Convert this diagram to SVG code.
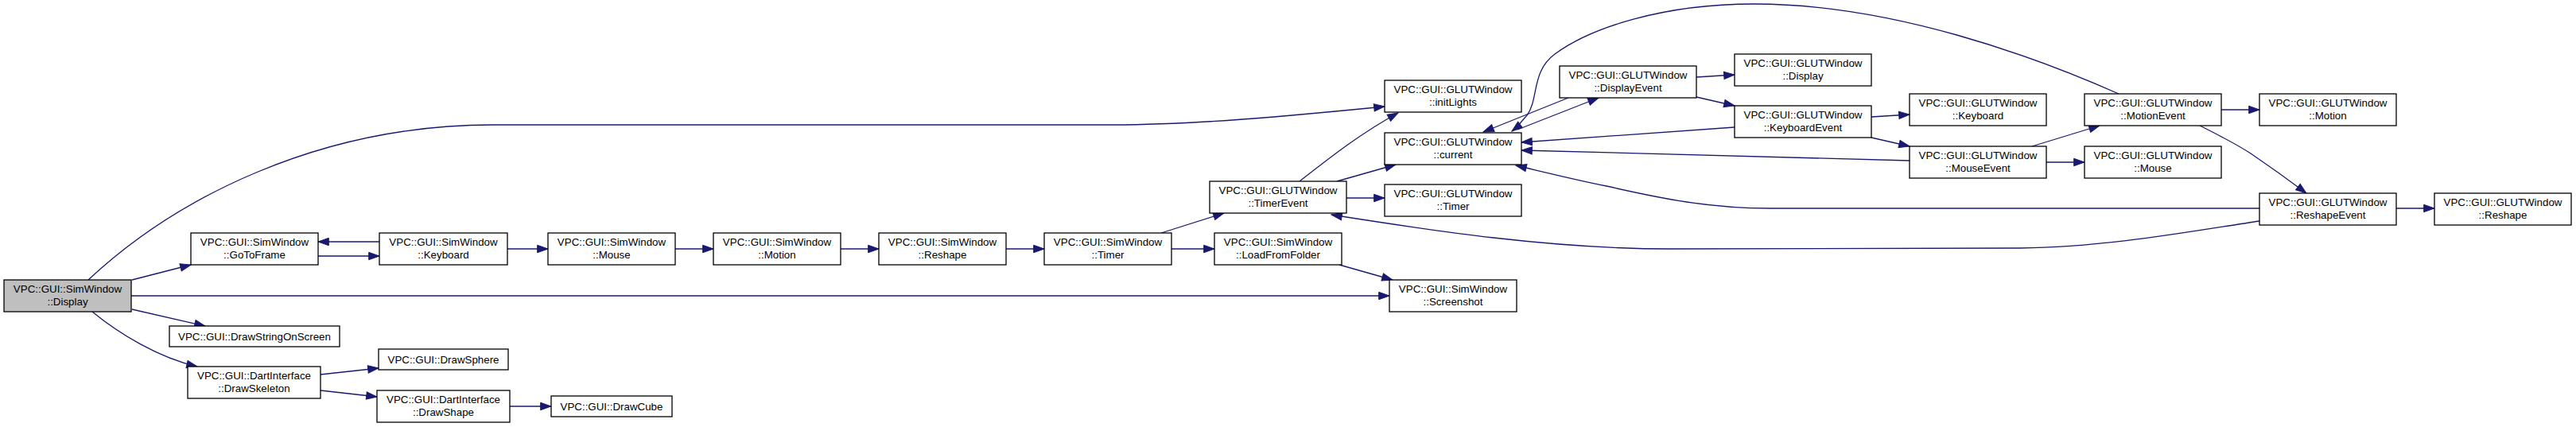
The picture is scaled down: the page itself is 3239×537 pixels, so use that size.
<svg xmlns="http://www.w3.org/2000/svg" width="3239" height="537" viewBox="0 0 3239 537">
<style>
.n rect{fill:#ffffff;stroke:#000000;stroke-width:1.3}
.n.root rect{fill:#bfbfbf}
.n text{font-family:"Liberation Sans",Arial,Helvetica,sans-serif;font-size:13.33px;fill:#000000;text-anchor:middle}
.e path{fill:none;stroke:#191970;stroke-width:1.3;marker-end:url(#ah)}
</style>
<defs>
<marker id="ah" markerUnits="userSpaceOnUse" markerWidth="16" markerHeight="12" viewBox="0 -6 14 12" refX="13.3" refY="0" orient="auto">
<path d="M0,-4.7 L13.3,0 L0,4.7 Z" fill="#191970" stroke="#191970" stroke-width="1"/>
</marker>
</defs>
<rect x="0" y="0" width="3239" height="537" fill="#ffffff"/>
<g id="edges" class="e">
<path d="M111,352 C220,250 400,157 620,157 L1400,157 C1500,157 1620,146 1741,134"/>
<path d="M166,352 L240,333"/>
<path d="M165,372 L1747,372"/>
<path d="M166,389 L258,410"/>
<path d="M116,392 C150,420 200,450 248,461"/>
<path d="M400,322 L477,322"/>
<path d="M477,304 L400,304"/>
<path d="M638,313 L689,313"/>
<path d="M849,313 L897,313"/>
<path d="M1057,313 L1105,313"/>
<path d="M1265,313 L1313,313"/>
<path d="M1460,293 L1539,268"/>
<path d="M1473,313 L1527,313"/>
<path d="M403,471 L476,463"/>
<path d="M403,491 L474,499"/>
<path d="M641,511 L693,511"/>
<path d="M1684,333 L1751,352"/>
<path d="M1634,228 C1670,200 1710,168 1758,142"/>
<path d="M1681,228 L1755,207"/>
<path d="M1693,249 L1741,249"/>
<path d="M1908,163 L2010,123"/>
<path d="M1972,123 L1865,166"/>
<path d="M2133,97 L2181,94"/>
<path d="M2133,122 L2181,133"/>
<path d="M2181,160 L1913,179"/>
<path d="M2353,147 L2401,144"/>
<path d="M2353,173 L2401,184"/>
<path d="M2401,202 L1913,189"/>
<path d="M2573,204 L2621,204"/>
<path d="M2555,184 L2640,158"/>
<path d="M2664,118 C2560,72 2380,5 2206,5 C2090,5 2000,35 1955,68 C1925,90 1935,125 1920,145 C1915,150 1910,158 1901,165"/>
<path d="M2793,138 L2841,138"/>
<path d="M2766,158 C2790,170 2810,180 2830,193 C2855,210 2880,228 2900,243"/>
<path d="M3013,262 L3061,262"/>
<path d="M2841,262 L2227,262 C2150,262 2090,250 2020,234 C1980,226 1940,216 1906,208"/>
<path d="M2841,278 C2760,290 2650,311 2540,312 L2100,313 C1950,313 1800,290 1674,270"/>
</g>
<g id="node_sim_display" class="n root"><rect x="5" y="352" width="160" height="40"/><text x="85" y="367.7">VPC::GUI::SimWindow</text><text x="85" y="383.7">::Display</text></g>
<g id="node_sim_gotoframe" class="n"><rect x="240" y="293" width="160" height="40"/><text x="320" y="308.7">VPC::GUI::SimWindow</text><text x="320" y="324.7">::GoToFrame</text></g>
<g id="node_drawstringonscreen" class="n"><rect x="213" y="410" width="214" height="26"/><text x="320" y="427.5">VPC::GUI::DrawStringOnScreen</text></g>
<g id="node_drawskeleton" class="n"><rect x="236" y="461" width="167" height="40"/><text x="319.5" y="476.7">VPC::GUI::DartInterface</text><text x="319.5" y="492.7">::DrawSkeleton</text></g>
<g id="node_sim_keyboard" class="n"><rect x="477" y="293" width="161" height="40"/><text x="557.5" y="308.7">VPC::GUI::SimWindow</text><text x="557.5" y="324.7">::Keyboard</text></g>
<g id="node_drawsphere" class="n"><rect x="476" y="439" width="163" height="26"/><text x="557.5" y="456.5">VPC::GUI::DrawSphere</text></g>
<g id="node_drawshape" class="n"><rect x="474" y="491" width="167" height="40"/><text x="557.5" y="506.7">VPC::GUI::DartInterface</text><text x="557.5" y="522.7">::DrawShape</text></g>
<g id="node_sim_mouse" class="n"><rect x="689" y="293" width="160" height="40"/><text x="769" y="308.7">VPC::GUI::SimWindow</text><text x="769" y="324.7">::Mouse</text></g>
<g id="node_drawcube" class="n"><rect x="693" y="498" width="152" height="26"/><text x="769" y="515.5">VPC::GUI::DrawCube</text></g>
<g id="node_sim_motion" class="n"><rect x="897" y="293" width="160" height="40"/><text x="977" y="308.7">VPC::GUI::SimWindow</text><text x="977" y="324.7">::Motion</text></g>
<g id="node_sim_reshape" class="n"><rect x="1105" y="293" width="160" height="40"/><text x="1185" y="308.7">VPC::GUI::SimWindow</text><text x="1185" y="324.7">::Reshape</text></g>
<g id="node_sim_timer" class="n"><rect x="1313" y="293" width="160" height="40"/><text x="1393" y="308.7">VPC::GUI::SimWindow</text><text x="1393" y="324.7">::Timer</text></g>
<g id="node_glut_timerevent" class="n"><rect x="1521" y="228" width="172" height="40"/><text x="1607" y="243.7">VPC::GUI::GLUTWindow</text><text x="1607" y="259.7">::TimerEvent</text></g>
<g id="node_sim_loadfromfolder" class="n"><rect x="1527" y="293" width="160" height="40"/><text x="1607" y="308.7">VPC::GUI::SimWindow</text><text x="1607" y="324.7">::LoadFromFolder</text></g>
<g id="node_glut_initlights" class="n"><rect x="1741" y="101" width="172" height="40"/><text x="1827" y="116.7">VPC::GUI::GLUTWindow</text><text x="1827" y="132.7">::initLights</text></g>
<g id="node_glut_current" class="n"><rect x="1741" y="167" width="172" height="40"/><text x="1827" y="182.7">VPC::GUI::GLUTWindow</text><text x="1827" y="198.7">::current</text></g>
<g id="node_glut_timer" class="n"><rect x="1741" y="232" width="172" height="40"/><text x="1827" y="247.7">VPC::GUI::GLUTWindow</text><text x="1827" y="263.7">::Timer</text></g>
<g id="node_sim_screenshot" class="n"><rect x="1747" y="352" width="160" height="40"/><text x="1827" y="367.7">VPC::GUI::SimWindow</text><text x="1827" y="383.7">::Screenshot</text></g>
<g id="node_glut_displayevent" class="n"><rect x="1961" y="83" width="172" height="40"/><text x="2047" y="98.7">VPC::GUI::GLUTWindow</text><text x="2047" y="114.7">::DisplayEvent</text></g>
<g id="node_glut_display" class="n"><rect x="2181" y="68" width="172" height="40"/><text x="2267" y="83.7">VPC::GUI::GLUTWindow</text><text x="2267" y="99.7">::Display</text></g>
<g id="node_glut_keyboardevent" class="n"><rect x="2181" y="133" width="172" height="40"/><text x="2267" y="148.7">VPC::GUI::GLUTWindow</text><text x="2267" y="164.7">::KeyboardEvent</text></g>
<g id="node_glut_keyboard" class="n"><rect x="2401" y="118" width="172" height="40"/><text x="2487" y="133.7">VPC::GUI::GLUTWindow</text><text x="2487" y="149.7">::Keyboard</text></g>
<g id="node_glut_mouseevent" class="n"><rect x="2401" y="184" width="172" height="40"/><text x="2487" y="199.7">VPC::GUI::GLUTWindow</text><text x="2487" y="215.7">::MouseEvent</text></g>
<g id="node_glut_motionevent" class="n"><rect x="2621" y="118" width="172" height="40"/><text x="2707" y="133.7">VPC::GUI::GLUTWindow</text><text x="2707" y="149.7">::MotionEvent</text></g>
<g id="node_glut_mouse" class="n"><rect x="2621" y="184" width="172" height="40"/><text x="2707" y="199.7">VPC::GUI::GLUTWindow</text><text x="2707" y="215.7">::Mouse</text></g>
<g id="node_glut_motion" class="n"><rect x="2841" y="118" width="172" height="40"/><text x="2927" y="133.7">VPC::GUI::GLUTWindow</text><text x="2927" y="149.7">::Motion</text></g>
<g id="node_glut_reshapeevent" class="n"><rect x="2841" y="243" width="172" height="40"/><text x="2927" y="258.7">VPC::GUI::GLUTWindow</text><text x="2927" y="274.7">::ReshapeEvent</text></g>
<g id="node_glut_reshape" class="n"><rect x="3061" y="243" width="172" height="40"/><text x="3147" y="258.7">VPC::GUI::GLUTWindow</text><text x="3147" y="274.7">::Reshape</text></g>
</svg>
